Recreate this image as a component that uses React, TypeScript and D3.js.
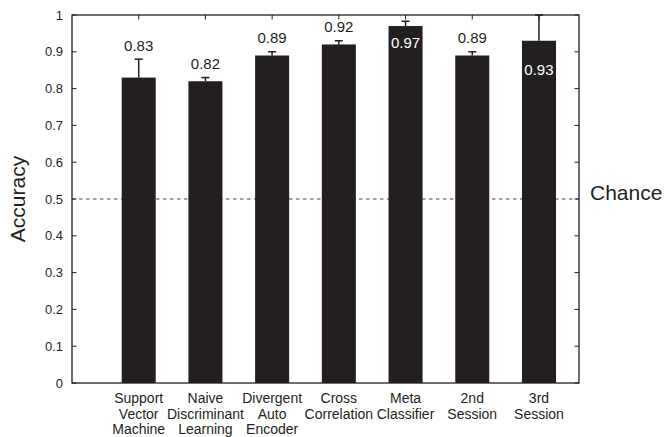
import React from "react";
import * as d3 from "d3";

const categories: string[][] = [
  ["Support", "Vector", "Machine"],
  ["Naive", "Discriminant", "Learning"],
  ["Divergent", "Auto", "Encoder"],
  ["Cross", "Correlation"],
  ["Meta", "Classifier"],
  ["2nd", "Session"],
  ["3rd", "Session"],
];
const accuracy = [0.83, 0.82, 0.89, 0.92, 0.97, 0.89, 0.93];
const errorUpper = [0.05, 0.01, 0.01, 0.01, 0.013, 0.01, 0.07];
const valueLabels = ["0.83", "0.82", "0.89", "0.92", "0.97", "0.89", "0.93"];
const yTicks = [0, 0.1, 0.2, 0.3, 0.4, 0.5, 0.6, 0.7, 0.8, 0.9, 1];
const chanceLevel = 0.5;

const W = 665;
const H = 437;
const left = 72;
const right = 579;
const top = 15;
const bottom = 383;
const FONT = "'Liberation Sans', Arial, Helvetica, sans-serif";
const INK = "#231f20";

export default function App() {
  const x = d3.scaleLinear().domain([0, 7.6]).range([left, right]);
  const y = d3.scaleLinear().domain([0, 1]).range([bottom, top]);
  const barW = x(0.51) - x(0);
  const capW = 8;
  const tick = 4.5;

  return (
    <svg width={W} height={H} style={{ position: "absolute", left: 0, top: 0 }} fontFamily={FONT}>
      <rect width={W} height={H} fill="#fff" />
      {/* chance line */}
      <line x1={left} x2={right} y1={y(chanceLevel)} y2={y(chanceLevel)} stroke="#444" strokeWidth={1} strokeDasharray="3.5,3.5" />
      {/* bars */}
      {accuracy.map((v, i) => {
        const cx = x(i + 1);
        return (
          <g key={i}>
            <line x1={cx} x2={cx} y1={y(v)} y2={y(Math.min(1, v + errorUpper[i]))} stroke={INK} strokeWidth={1.5} />
            <line x1={cx - capW / 2} x2={cx + capW / 2} y1={y(Math.min(1, v + errorUpper[i]))} y2={y(Math.min(1, v + errorUpper[i]))} stroke={INK} strokeWidth={1.5} />
            <rect x={cx - barW / 2} y={y(v)} width={barW} height={y(0) - y(v)} fill={INK} />
          </g>
        );
      })}
      {/* value labels */}
      {accuracy.map((v, i) => {
        const cx = x(i + 1);
        const inside = i === 4 || i === 6;
        let ly: number;
        if (i === 4) ly = y(v) + 17;
        else if (i === 6) ly = y(v) + 29;
        else ly = y(v + errorUpper[i]) - 14;
        return (
          <text key={i} x={cx} y={ly} dy="0.36em" textAnchor="middle" fontSize={15} fill={inside ? "#fff" : INK}>
            {valueLabels[i]}
          </text>
        );
      })}
      {/* axes box */}
      <rect x={left} y={top} width={right - left} height={bottom - top} fill="none" stroke={INK} strokeWidth={1.3} />
      {/* y ticks */}
      {yTicks.map((t) => (
        <g key={t}>
          <line x1={left} x2={left + tick} y1={y(t)} y2={y(t)} stroke={INK} strokeWidth={1} />
          <line x1={right} x2={right - tick} y1={y(t)} y2={y(t)} stroke={INK} strokeWidth={1} />
          <text x={left - 9} y={y(t)} dy="0.35em" textAnchor="end" fontSize={13} fill={INK}>
            {d3.format("")(t)}
          </text>
        </g>
      ))}
      {/* x ticks top & bottom */}
      {accuracy.map((_, i) => (
        <g key={i}>
          <line x1={x(i + 1)} x2={x(i + 1)} y1={top} y2={top + tick} stroke={INK} strokeWidth={1} />
        </g>
      ))}
      {/* category labels */}
      {categories.map((lines, i) => (
        <text key={i} x={x(i + 1)} y={398} textAnchor="middle" fontSize={14} fill={INK}>
          {lines.map((l, j) => (
            <tspan key={j} x={x(i + 1)} y={398 + j * 15.5} dy="0.36em">
              {l}
            </tspan>
          ))}
        </text>
      ))}
      {/* axis title */}
      <text transform={`translate(17,${(top + bottom) / 2}) rotate(-90)`} textAnchor="middle" dy="0.36em" fontSize={21} fill={INK}>
        Accuracy
      </text>
      <text x={590} y={y(chanceLevel) - 7} dy="0.36em" fontSize={21} fill={INK}>
        Chance
      </text>
    </svg>
  );
}
